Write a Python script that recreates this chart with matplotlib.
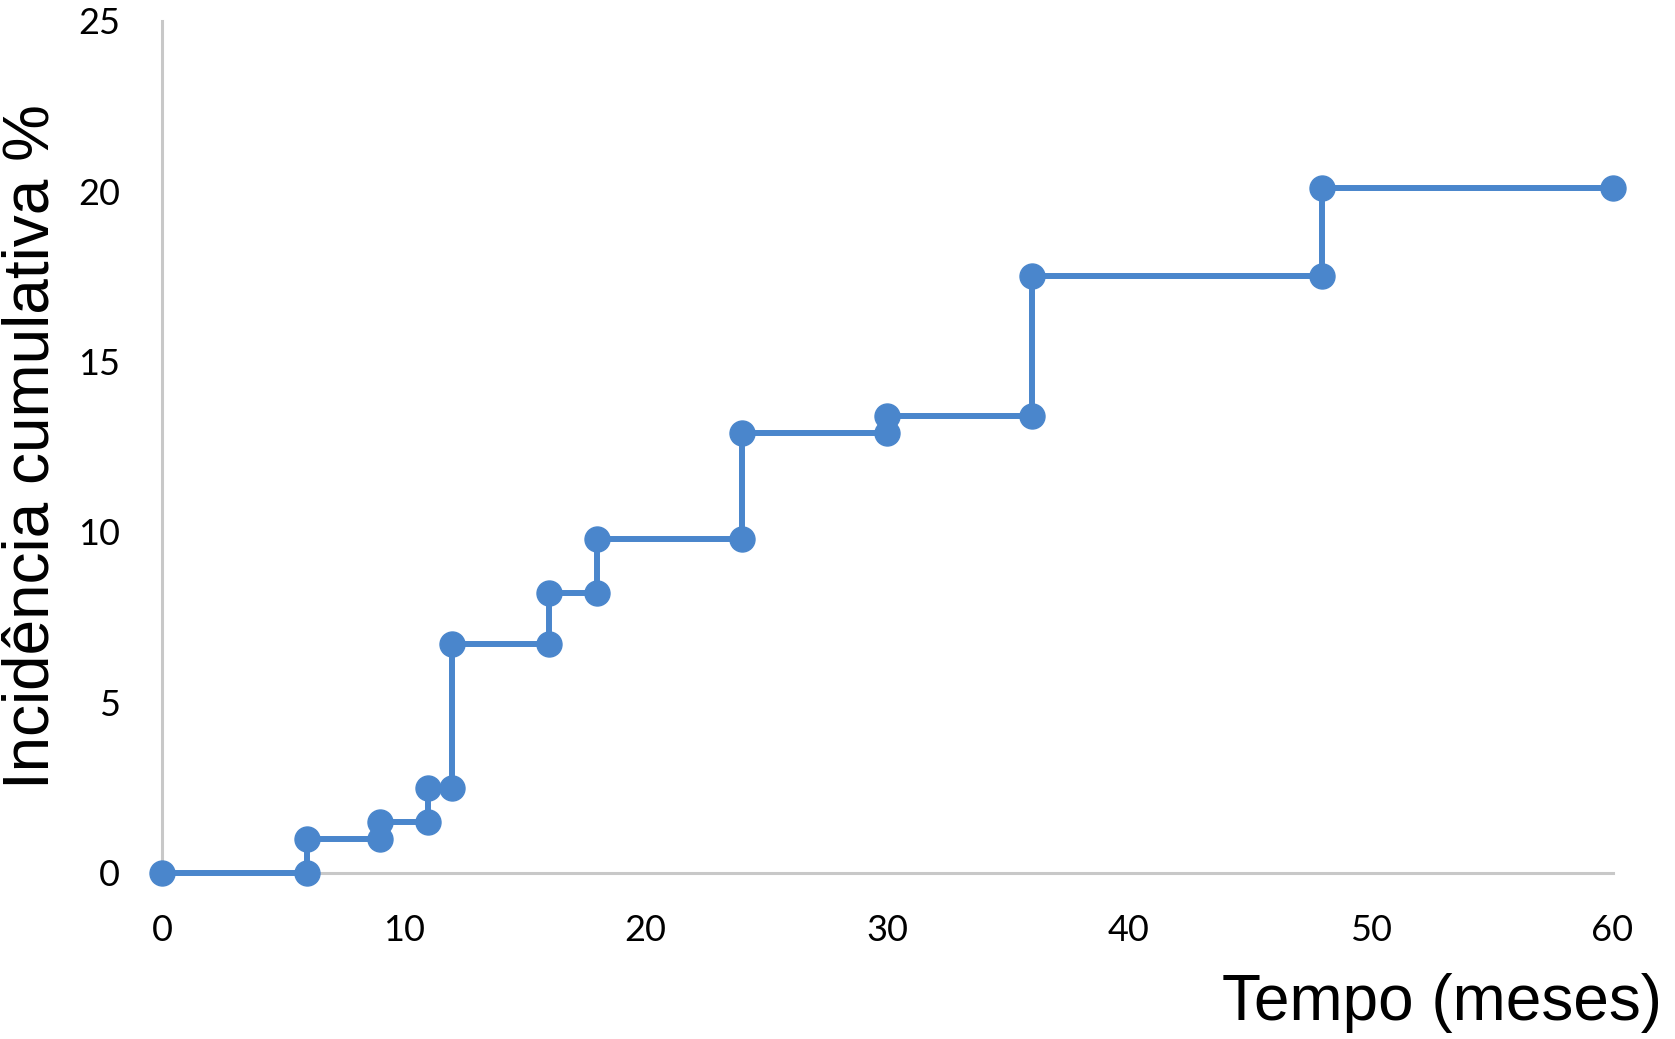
import matplotlib.pyplot as plt

# cumulative incidence (%) at each event time (months)
tempo = [0, 6, 9, 11, 12, 16, 18, 24, 30, 36, 48, 60]
incidencia = [0, 1.0, 1.5, 2.5, 6.7, 8.2, 9.8, 12.9, 13.4, 17.5, 20.1, 20.1]
x_ticks = [0, 10, 20, 30, 40, 50, 60]
y_ticks = [0, 5, 10, 15, 20, 25]

# step vertices: each jump gets a point before and after
xs, ys = [tempo[0]], [incidencia[0]]
for i in range(1, len(tempo)):
    xs.append(tempo[i])
    ys.append(incidencia[i - 1])
    if incidencia[i] != incidencia[i - 1]:
        xs.append(tempo[i])
        ys.append(incidencia[i])

fig = plt.figure(figsize=(16.75, 10.39), dpi=100)
ax = fig.add_axes([0.0967, 0.160, 0.866, 0.820])

ax.plot(xs, ys, color="#4a86cc", lw=4.3, marker="o", markersize=18,
        clip_on=False, zorder=3)

ax.set_xlim(0, 60)
ax.set_ylim(0, 25)
ax.set_xticks(x_ticks)
ax.set_yticks(y_ticks)
for s in ["top", "right"]:
    ax.spines[s].set_visible(False)
for s in ["left", "bottom"]:
    ax.spines[s].set_color("#c8c8c8")
    ax.spines[s].set_linewidth(2.2)
ax.tick_params(length=0, labelsize=26)
ax.tick_params(axis="x", pad=30)
ax.tick_params(axis="y", pad=30)
for lab in ax.get_xticklabels() + ax.get_yticklabels():
    lab.set_family("Lato")

fig.text(0.992, 0.035, "Tempo (meses)", ha="right", va="center",
         fontsize=46, family="Liberation Sans")
fig.text(0.019, 0.57, "Incidência cumulativa %", ha="center", va="center",
         rotation=90, fontsize=46, family="Liberation Sans")

fig.savefig("out.png", dpi=100)
